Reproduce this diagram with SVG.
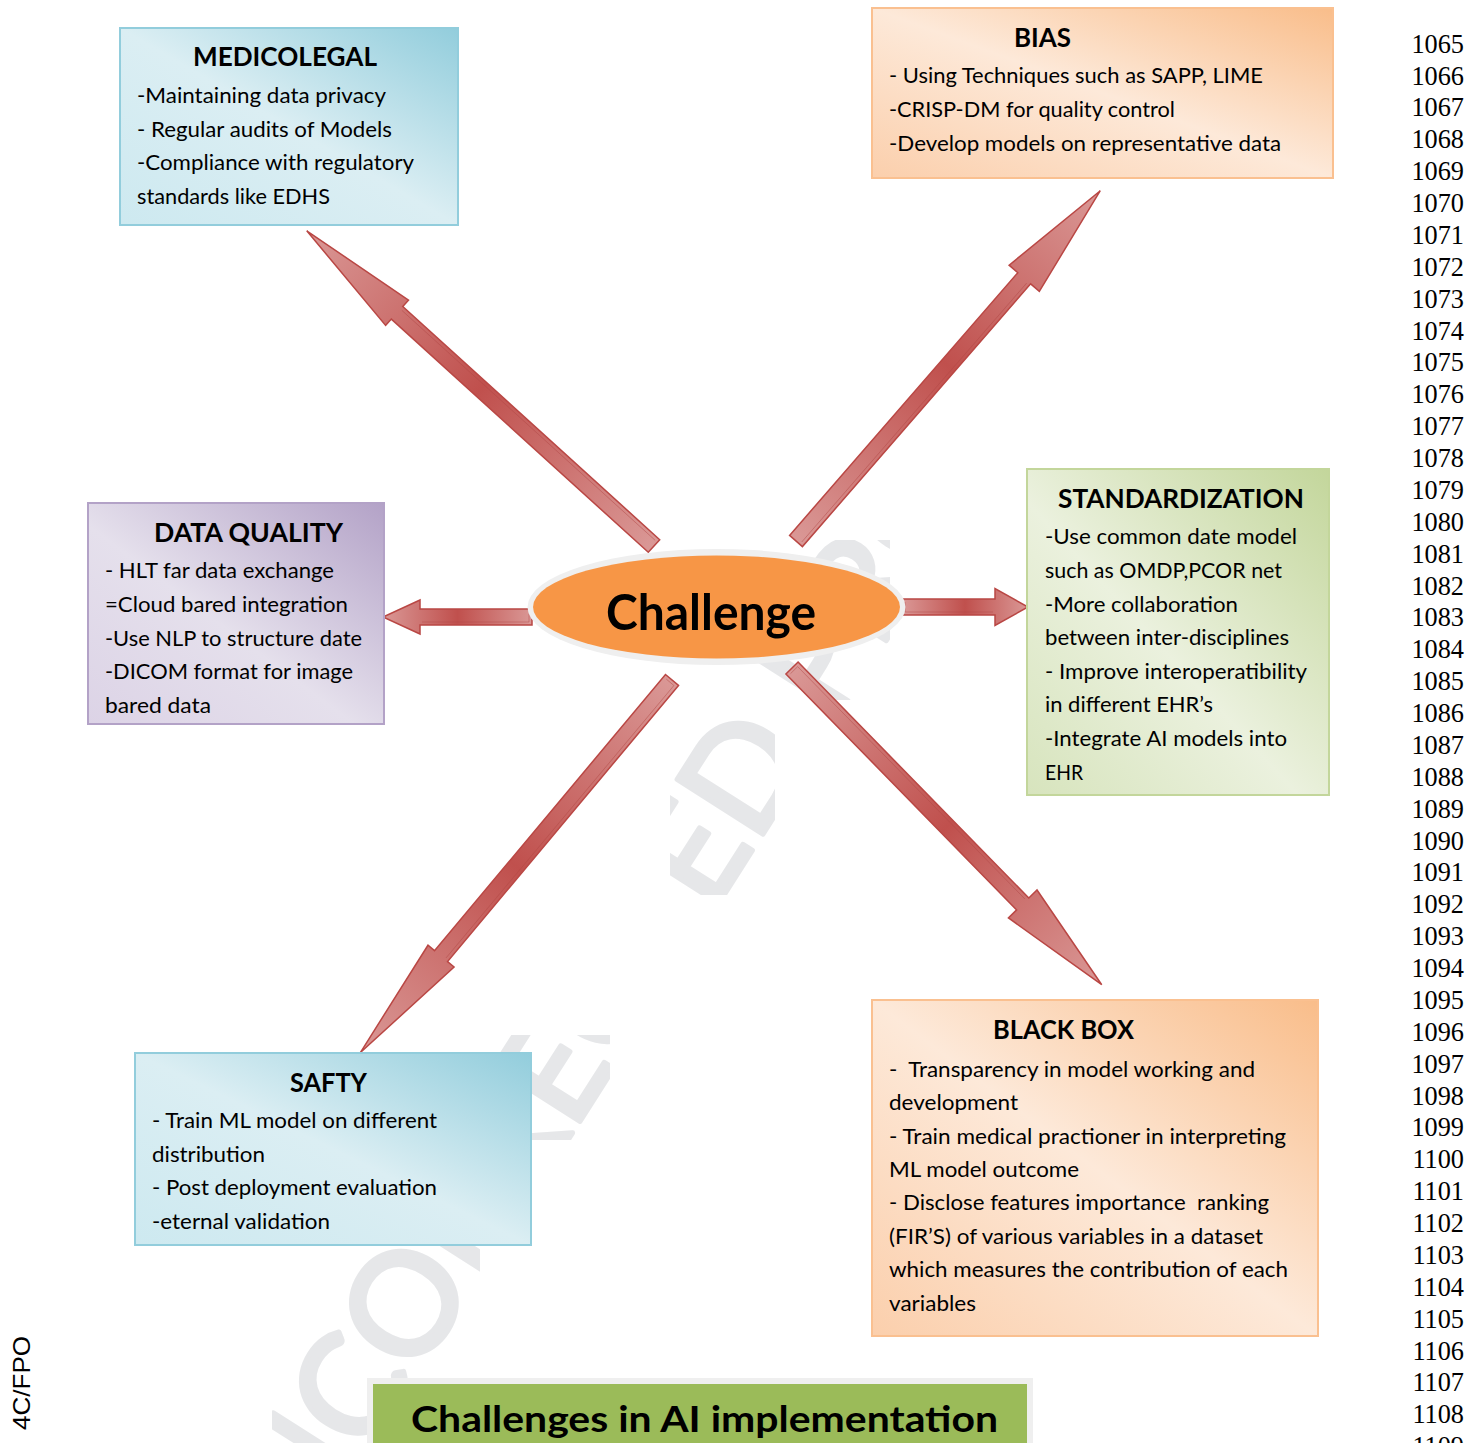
<svg xmlns="http://www.w3.org/2000/svg" width="1481" height="1443" viewBox="0 0 1481 1443">
  <defs>
    <style>
      .t { font-family: Lato, "Open Sans", "Liberation Sans", sans-serif; fill: #000; }
      .h { font-weight: 700; font-size: 26px; }
      .b { font-size: 21.5px; }
      .arrow { fill: url(#arrowFill); stroke: #b94744; stroke-width: 1.5; stroke-linejoin: miter; }
      .bevel { fill: none; stroke: #b04744; stroke-width: 0.8; stroke-opacity: 0.55; }
      .num { font-family: "Liberation Serif", "Times New Roman", serif; font-size: 26.3px; fill: #000; }
      .wm { font-family: Lato, "Liberation Sans", sans-serif; font-weight: 400; font-size: 142px; fill: #e6e7e9; stroke: #e6e7e9; stroke-width: 5; stroke-linejoin: round; }
    </style>
    <linearGradient id="arrowFill" x1="0" y1="0" x2="1" y2="0">
      <stop offset="0" stop-color="#da9896"/>
      <stop offset="0.5" stop-color="#c0504d"/>
      <stop offset="1" stop-color="#da9896"/>
    </linearGradient>
    <linearGradient id="blueFill" x1="1" y1="0" x2="0" y2="1">
      <stop offset="0" stop-color="#92cddc"/>
      <stop offset="0.5" stop-color="#dbeef3"/>
      <stop offset="1" stop-color="#cde9f0"/>
    </linearGradient>
    <linearGradient id="orangeFill" x1="1" y1="0" x2="0" y2="1">
      <stop offset="0" stop-color="#f9bd8a"/>
      <stop offset="0.5" stop-color="#fde9d9"/>
      <stop offset="1" stop-color="#fbcfac"/>
    </linearGradient>
    <linearGradient id="greenFill" x1="1" y1="0" x2="0" y2="1">
      <stop offset="0" stop-color="#c3d69b"/>
      <stop offset="0.55" stop-color="#ebf1de"/>
      <stop offset="1" stop-color="#d7e4bd"/>
    </linearGradient>
    <linearGradient id="purpleFill" x1="1" y1="0" x2="0" y2="1">
      <stop offset="0" stop-color="#b3a2c7"/>
      <stop offset="0.55" stop-color="#e5e0ec"/>
      <stop offset="1" stop-color="#dcd3e6"/>
    </linearGradient>
    <!-- the watermark only shows through in these gaps of the page -->
    <clipPath id="wmClip" clipPathUnits="userSpaceOnUse">
      <rect x="272" y="1225" width="208" height="218"/>
      <rect x="490" y="1035" width="120" height="105"/>
      <rect x="670" y="700" width="105" height="195"/>
      <rect x="735" y="540" width="155" height="160"/>
    </clipPath>
  </defs>

  <rect x="0" y="0" width="1481" height="1443" fill="#fff"/>

  <!-- proof watermark, behind everything -->
  <g clip-path="url(#wmClip)">
    <text class="wm" transform="translate(252,1636) rotate(-57.5)">UNCORRECTED PROOF</text>
  </g>

  <!-- block arrows radiating from the centre -->
  <g id="connectors">
    <g transform="translate(654,546) rotate(-137.77)">
      <polygon class="arrow" points="0,-8.5 347,-8.5 347,-17 469,0 347,17 347,8.5 0,8.5"/>
      <polyline class="bevel" points="3,5 345,5"/>
    </g>
    <g transform="translate(796,541) rotate(-49.02)">
      <polygon class="arrow" points="0,-8.5 348,-8.5 348,-20 464,0 348,20 348,8.5 0,8.5"/>
      <polyline class="bevel" points="3,5 346,5"/>
    </g>
    <g transform="translate(902,607)">
      <polygon class="arrow" points="0,-8 93,-8 93,-18.5 126,0 93,18.5 93,8 0,8"/>
      <polyline class="bevel" points="3,-5 3,5 91,5"/>
    </g>
    <g transform="translate(532,617) rotate(180)">
      <polygon class="arrow" points="0,-8 112,-8 112,-17 149,0 112,17 112,8 0,8"/>
      <polyline class="bevel" points="3,5 3,-5 110,-5"/>
    </g>
    <g transform="translate(672,680) rotate(129.91)">
      <polygon class="arrow" points="0,-8.5 360,-8.5 360,-17 486,0 360,17 360,8.5 0,8.5"/>
      <polyline class="bevel" points="3,5 3,-5 358,-5"/>
    </g>
    <g transform="translate(792,668) rotate(45.64)">
      <polygon class="arrow" points="0,-8.5 330,-8.5 330,-20 443,0 330,20 330,8.5 0,8.5"/>
      <polyline class="bevel" points="3,5 3,-5 328,-5"/>
    </g>
  </g>

  <!-- centre node -->
  <g id="challenge">
    <ellipse cx="716.5" cy="607" rx="189" ry="58" fill="#efefef"/>
    <ellipse cx="716.5" cy="607" rx="183.5" ry="51.5" fill="#f79646"/>
    <text class="t" x="606" y="630" font-size="50" font-weight="700" textLength="210" lengthAdjust="spacingAndGlyphs">Challenge</text>
  </g>

  <g id="medicolegal">
    <rect x="120" y="28" width="338" height="197" fill="url(#blueFill)" stroke="#92cddc" stroke-width="2"/>
    <text class="t h" x="193" y="66" textLength="184" lengthAdjust="spacingAndGlyphs">MEDICOLEGAL</text>
    <text class="t b" x="137" y="103" textLength="249" lengthAdjust="spacingAndGlyphs">-Maintaining data privacy</text>
    <text class="t b" x="137" y="136.7" textLength="255" lengthAdjust="spacingAndGlyphs">- Regular audits of Models</text>
    <text class="t b" x="137" y="170.4" textLength="277" lengthAdjust="spacingAndGlyphs">-Compliance with regulatory</text>
    <text class="t b" x="137" y="204.1" textLength="193" lengthAdjust="spacingAndGlyphs">standards like EDHS</text>
  </g>

  <g id="bias">
    <rect x="872" y="8" width="461" height="170" fill="url(#orangeFill)" stroke="#fac090" stroke-width="2"/>
    <text class="t h" x="1014" y="46.7" textLength="57" lengthAdjust="spacingAndGlyphs">BIAS</text>
    <text class="t b" x="889" y="83.3" textLength="374" lengthAdjust="spacingAndGlyphs">- Using Techniques such as SAPP, LIME</text>
    <text class="t b" x="889" y="117.3" textLength="286" lengthAdjust="spacingAndGlyphs">-CRISP-DM for quality control</text>
    <text class="t b" x="889" y="150.7" textLength="392" lengthAdjust="spacingAndGlyphs">-Develop models on representative data</text>
  </g>

  <g id="standardization">
    <rect x="1027" y="469" width="302" height="326" fill="url(#greenFill)" stroke="#c3d69b" stroke-width="2"/>
    <text class="t h" x="1058" y="508.3" textLength="246" lengthAdjust="spacingAndGlyphs">STANDARDIZATION</text>
    <text class="t b" x="1045" y="544" textLength="252" lengthAdjust="spacingAndGlyphs">-Use common date model</text>
    <text class="t b" x="1045" y="577.5" textLength="237" lengthAdjust="spacingAndGlyphs">such as OMDP,PCOR net</text>
    <text class="t b" x="1045" y="611.5" textLength="193" lengthAdjust="spacingAndGlyphs">-More collaboration</text>
    <text class="t b" x="1045" y="645" textLength="244" lengthAdjust="spacingAndGlyphs">between inter-disciplines</text>
    <text class="t b" x="1045" y="678.5" textLength="262" lengthAdjust="spacingAndGlyphs">- Improve interoperatibility</text>
    <text class="t b" x="1045" y="712" textLength="168" lengthAdjust="spacingAndGlyphs">in different EHR’s</text>
    <text class="t b" x="1045" y="746" textLength="242" lengthAdjust="spacingAndGlyphs">-Integrate AI models into</text>
    <text class="t b" x="1045" y="780" textLength="38" lengthAdjust="spacingAndGlyphs">EHR</text>
  </g>

  <g id="data-quality">
    <rect x="88" y="503" width="296" height="221" fill="url(#purpleFill)" stroke="#b3a2c7" stroke-width="2"/>
    <text class="t h" x="154" y="542" textLength="189" lengthAdjust="spacingAndGlyphs">DATA QUALITY</text>
    <text class="t b" x="105" y="578" textLength="229" lengthAdjust="spacingAndGlyphs">- HLT far data exchange</text>
    <text class="t b" x="105" y="612" textLength="243" lengthAdjust="spacingAndGlyphs">=Cloud bared integration</text>
    <text class="t b" x="105" y="645.5" textLength="257" lengthAdjust="spacingAndGlyphs">-Use NLP to structure date</text>
    <text class="t b" x="105" y="679" textLength="248" lengthAdjust="spacingAndGlyphs">-DICOM format for image</text>
    <text class="t b" x="105" y="713" textLength="106" lengthAdjust="spacingAndGlyphs">bared data</text>
  </g>

  <g id="safty">
    <rect x="135" y="1053" width="396" height="192" fill="url(#blueFill)" stroke="#92cddc" stroke-width="2"/>
    <text class="t h" x="290" y="1092" textLength="77" lengthAdjust="spacingAndGlyphs">SAFTY</text>
    <text class="t b" x="152" y="1128.3" textLength="285" lengthAdjust="spacingAndGlyphs">- Train ML model on different</text>
    <text class="t b" x="152" y="1161.7" textLength="113" lengthAdjust="spacingAndGlyphs">distribution</text>
    <text class="t b" x="152" y="1195" textLength="285" lengthAdjust="spacingAndGlyphs">- Post deployment evaluation</text>
    <text class="t b" x="152" y="1229" textLength="178" lengthAdjust="spacingAndGlyphs">-eternal validation</text>
  </g>

  <g id="black-box">
    <rect x="872" y="1000" width="446" height="336" fill="url(#orangeFill)" stroke="#fac090" stroke-width="2"/>
    <text class="t h" x="993" y="1039.3" textLength="141" lengthAdjust="spacingAndGlyphs">BLACK BOX</text>
    <text class="t b" x="889" y="1076.7" textLength="366" lengthAdjust="spacingAndGlyphs" xml:space="preserve">-  Transparency in model working and</text>
    <text class="t b" x="889" y="1110.1" textLength="129" lengthAdjust="spacingAndGlyphs">development</text>
    <text class="t b" x="889" y="1143.6" textLength="397" lengthAdjust="spacingAndGlyphs">- Train medical practioner in interpreting</text>
    <text class="t b" x="889" y="1177" textLength="190" lengthAdjust="spacingAndGlyphs">ML model outcome</text>
    <text class="t b" x="889" y="1210.4" textLength="380" lengthAdjust="spacingAndGlyphs" xml:space="preserve">- Disclose features importance  ranking</text>
    <text class="t b" x="889" y="1243.9" textLength="374" lengthAdjust="spacingAndGlyphs">(FIR’S) of various variables in a dataset</text>
    <text class="t b" x="889" y="1277.3" textLength="399" lengthAdjust="spacingAndGlyphs">which measures the contribution of each</text>
    <text class="t b" x="889" y="1310.7" textLength="87" lengthAdjust="spacingAndGlyphs">variables</text>
  </g>

  <g id="title">
    <rect x="370" y="1381" width="660" height="80" fill="#9bbb59" stroke="#efefef" stroke-width="6"/>
    <text class="t" x="411" y="1432" font-size="37" font-weight="700" textLength="587" lengthAdjust="spacingAndGlyphs">Challenges in AI implementation</text>
  </g>

  <!-- colour note in the left margin -->
  <text transform="translate(30,1430) rotate(-90)" font-family="'Liberation Sans', Arial, sans-serif" font-size="24" textLength="94" lengthAdjust="spacingAndGlyphs" fill="#000">4C/FPO</text>

  <!-- line numbers in the right margin -->
  <text class="num" text-anchor="end" x="1464" y="52.7">1065<tspan x="1464" dy="31.874">1066</tspan><tspan x="1464" dy="31.874">1067</tspan><tspan x="1464" dy="31.874">1068</tspan><tspan x="1464" dy="31.874">1069</tspan><tspan x="1464" dy="31.874">1070</tspan><tspan x="1464" dy="31.874">1071</tspan><tspan x="1464" dy="31.874">1072</tspan><tspan x="1464" dy="31.874">1073</tspan><tspan x="1464" dy="31.874">1074</tspan><tspan x="1464" dy="31.874">1075</tspan><tspan x="1464" dy="31.874">1076</tspan><tspan x="1464" dy="31.874">1077</tspan><tspan x="1464" dy="31.874">1078</tspan><tspan x="1464" dy="31.874">1079</tspan><tspan x="1464" dy="31.874">1080</tspan><tspan x="1464" dy="31.874">1081</tspan><tspan x="1464" dy="31.874">1082</tspan><tspan x="1464" dy="31.874">1083</tspan><tspan x="1464" dy="31.874">1084</tspan><tspan x="1464" dy="31.874">1085</tspan><tspan x="1464" dy="31.874">1086</tspan><tspan x="1464" dy="31.874">1087</tspan><tspan x="1464" dy="31.874">1088</tspan><tspan x="1464" dy="31.874">1089</tspan><tspan x="1464" dy="31.874">1090</tspan><tspan x="1464" dy="31.874">1091</tspan><tspan x="1464" dy="31.874">1092</tspan><tspan x="1464" dy="31.874">1093</tspan><tspan x="1464" dy="31.874">1094</tspan><tspan x="1464" dy="31.874">1095</tspan><tspan x="1464" dy="31.874">1096</tspan><tspan x="1464" dy="31.874">1097</tspan><tspan x="1464" dy="31.874">1098</tspan><tspan x="1464" dy="31.874">1099</tspan><tspan x="1464" dy="31.874">1100</tspan><tspan x="1464" dy="31.874">1101</tspan><tspan x="1464" dy="31.874">1102</tspan><tspan x="1464" dy="31.874">1103</tspan><tspan x="1464" dy="31.874">1104</tspan><tspan x="1464" dy="31.874">1105</tspan><tspan x="1464" dy="31.874">1106</tspan><tspan x="1464" dy="31.874">1107</tspan><tspan x="1464" dy="31.874">1108</tspan><tspan x="1464" dy="31.874">1109</tspan></text>
</svg>
